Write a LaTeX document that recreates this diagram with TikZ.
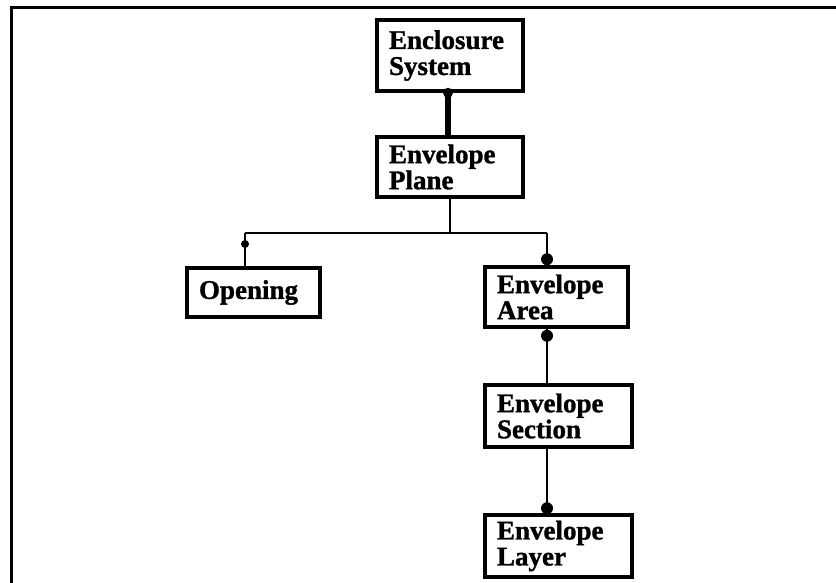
\documentclass[tikz,border=0pt]{standalone}
\usepackage{fontspec}
\setmainfont[BoldFeatures={FakeBold=1.2}]{Liberation Serif}
\usetikzlibrary{positioning,calc}

\tikzset{
  entity/.style={draw,line width=3.5pt,inner xsep=12pt,inner ysep=0pt,align=left,
    font=\bfseries\fontsize{27}{26}\selectfont},
  rel/.style={line width=2.6pt},
  dot/.style={circle,fill,inner sep=0pt,minimum size=#1}
}

\begin{document}
\begin{tikzpicture}[x=1pt,y=-1pt]
  \useasboundingbox (0,0) rectangle (836,583);
  % Frame
  \draw[line width=3pt] (836,8) -- (11,8) -- (11,583);
  % Node: Enclosure System
  \node[entity,text width=122pt,minimum height=71pt] (sys) at (450,55.5) {Enclosure\\System};
  % Node: Envelope Plane
  \node[entity,text width=122pt,minimum height=60pt] (plane) at (450,167) {Envelope\\Plane};
  % Node: Opening
  \node[entity,text width=109pt,minimum height=49pt] (open) at (253.5,292.5) {Opening};
  % Node: Envelope Area
  \node[entity,text width=119pt,minimum height=60pt] (area) at (556.5,297) {Envelope\\Area};
  % Node: Envelope Section
  \node[entity,text width=123pt,minimum height=62pt] (section) at (558.5,416) {Envelope\\Section};
  % Node: Envelope Layer
  \node[entity,text width=123pt,minimum height=62pt] (layer) at (558.5,546) {Envelope\\Layer};
  % Junctions
  \coordinate (jl) at (245,233);
  \coordinate (jr) at (547,233);
  % Edge: sys -- plane
  \draw[line width=6pt] ($(sys.south)+(-2,0)$) -- ($(plane.north)+(-2,0)$);
  \node[dot=10pt] at ($(sys.south)+(-2,0)$) {};
  % Edge: plane -- bar
  \draw[rel] (plane.south) -- (plane.south |- jl);
  \draw[rel] (jl) -- (jr);
  % Edge: bar -- open
  \draw[rel] (jl) -- (jl |- open.north);
  \node[dot=8pt] at ($(jl)+(0,11)$) {};
  % Edge: bar -- area
  \draw[rel] (jr) -- (jr |- area.north);
  \node[dot=12pt] at ($(jr |- area.north)+(0,-6)$) {};
  % Edge: area -- section
  \draw[rel] (area.south -| jr) -- (section.north -| jr);
  \node[dot=12pt] at ($(area.south -| jr)+(0,7)$) {};
  % Edge: section -- layer
  \draw[rel] (section.south -| jr) -- (layer.north -| jr);
  \node[dot=12pt] at ($(layer.north -| jr)+(0,-5)$) {};
\end{tikzpicture}
\end{document}
